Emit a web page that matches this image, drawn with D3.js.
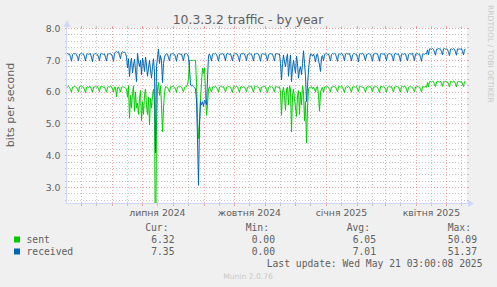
<!DOCTYPE html>
<html>
<head>
<meta charset="utf-8">
<script src="https://cdn.jsdelivr.net/npm/d3@7"></script>
<style>
  html, body { margin: 0; padding: 0; background: #f0f0f0; }
  svg { display: block; }
</style>
</head>
<body>
<div id="chart"></div>
<script>
// ---- data ----
const title = "10.3.3.2 traffic - by year";
const yLabel = "bits per second";
const startTime = "2024-04-16T03:00:00Z";   // 400 days before last update
const endTime = "2025-05-21T03:00:00Z";
const firstPoint = "2024-04-16T03:00:00Z";  // one value per day from here
const yTicks = [3, 4, 5, 6, 7, 8];
const xLabelMonths = ["2024-07-01", "2024-10-01", "2025-01-01", "2025-04-01"];
const xLabels = ["липня 2024", "жовтня 2024", "січня 2025", "квітня 2025"];
const seriesNames = ["sent", "received"];
const seriesColors = ["#00cc00", "#0066b3"];
const legendCur = [6.32, 7.35];
const legendMin = [0.00, 0.00];
const legendAvg = [6.05, 7.01];
const legendMax = [50.09, 51.37];
const lastUpdate = "Last update: Wed May 21 03:00:08 2025";
const footer = "Munin 2.0.76";
const watermark = "RRDTOOL / TOBI OETIKER";

const sent = [
  6.17,6.16,6.18,6.15,6.08,6.00,6.16,
  6.16,6.18,6.17,6.15,6.09,6.01,6.17,
  6.18,6.16,6.17,6.16,6.07,5.99,6.15,
  6.17,6.15,6.18,6.17,6.08,6.00,6.16,
  6.16,6.17,6.16,6.18,6.09,6.02,6.17,
  6.18,6.17,6.15,6.16,6.08,6.00,6.15,
  6.17,6.16,6.18,6.17,6.10,6.01,6.16,
  6.15,5.85,6.14,6.16,6.08,6.00,6.15,
  6.17,6.16,6.15,6.12,6.10,5.85,6.20,
  5.18,5.90,5.50,5.95,6.20,5.40,6.00,
  5.50,5.65,5.30,5.80,6.05,5.10,5.70,
  5.30,5.90,6.10,5.60,5.30,5.85,4.97,
  5.80,5.50,5.90,6.10,5.60,0.00,5.00,
  6.10,6.30,5.90,6.20,5.60,4.75,5.50,
  6.00,6.17,6.16,6.15,6.08,6.00,6.17,
  6.16,6.18,6.17,6.15,6.09,5.99,6.16,
  6.17,6.16,6.18,6.16,6.08,6.01,6.15,
  6.16,6.17,6.25,6.40,7.00,7.00,7.00,
  7.00,7.00,7.00,7.00,6.30,5.20,4.54,
  5.00,5.80,6.30,6.76,6.60,6.76,6.00,
  5.27,5.60,6.10,6.17,6.08,6.00,6.16,
  6.17,6.16,6.18,6.15,6.08,6.00,6.16,
  6.18,6.17,6.16,6.17,6.09,6.01,6.15,
  6.16,6.18,6.17,6.16,6.07,5.99,6.17,
  6.17,6.16,6.18,6.17,6.08,6.00,6.16,
  6.18,6.15,6.17,6.16,6.09,6.02,6.15,
  6.16,6.17,6.18,6.17,6.08,6.00,6.17,
  6.17,6.18,6.16,6.15,6.10,6.01,6.16,
  6.16,6.17,6.18,6.17,6.08,5.99,6.15,
  6.18,6.16,6.17,6.16,6.09,6.00,6.17,
  6.17,6.16,6.15,6.17,6.00,5.27,6.00,
  6.15,5.90,5.43,6.10,6.16,5.60,6.20,
  6.10,4.75,5.90,6.10,5.80,5.50,5.24,
  5.90,6.05,5.30,6.00,5.60,6.20,6.00,
  5.10,5.70,4.40,5.50,6.10,6.15,6.15,
  6.17,6.10,6.16,6.10,6.00,6.15,6.17,
  5.90,5.40,6.00,6.10,6.15,6.00,6.16,
  6.17,6.16,6.18,6.15,6.08,6.00,6.16,
  6.16,6.18,6.17,6.16,6.09,6.01,6.17,
  6.18,6.16,6.17,6.17,6.07,5.99,6.15,
  6.17,6.15,6.18,6.16,6.08,6.00,6.16,
  6.16,6.17,6.16,6.18,6.09,6.02,6.17,
  6.18,6.17,6.15,6.16,6.08,6.00,6.15,
  6.17,6.16,6.18,6.17,6.10,6.01,6.16,
  6.16,6.18,6.17,6.15,6.08,5.99,6.17,
  6.18,6.16,6.17,6.16,6.09,6.00,6.15,
  6.17,6.17,6.16,6.18,6.08,6.01,6.16,
  6.16,6.18,6.17,6.16,6.07,6.00,6.17,
  6.18,6.16,6.18,6.17,6.09,5.99,6.15,
  6.17,6.17,6.16,6.15,6.08,6.01,6.16,
  6.16,6.18,6.17,6.16,6.09,6.00,6.17,
  6.17,6.16,6.18,6.15,6.30,6.17,6.33,
  6.33,6.32,6.34,6.33,6.25,6.17,6.32,
  6.34,6.33,6.32,6.34,6.26,6.18,6.33,
  6.32,6.34,6.33,6.32,6.25,6.16,6.34,
  6.33,6.32,6.34,6.33,6.26,6.17,6.32,
  6.34,6.33,6.32,6.34,6.25,6.18,6.33,
  6.32
];

const received = [
  7.20,7.21,7.19,7.20,7.10,6.97,7.18,
  7.21,7.20,7.22,7.18,7.09,6.99,7.19,
  7.20,7.22,7.20,7.19,7.11,6.98,7.17,
  7.21,7.19,7.20,7.21,7.08,6.96,7.18,
  7.20,7.21,7.20,7.18,7.10,6.99,7.20,
  7.22,7.20,7.19,7.20,7.09,6.98,7.19,
  7.20,7.21,7.20,7.19,7.10,6.97,7.22,
  7.26,7.28,7.25,7.27,7.15,7.05,7.24,
  7.27,7.25,7.26,7.22,7.10,6.76,7.05,
  6.49,6.90,7.07,6.60,6.85,7.03,6.70,
  6.33,7.23,6.95,6.80,7.00,6.55,7.07,
  6.90,6.65,7.10,6.85,6.50,6.75,7.00,
  6.70,6.44,6.80,7.05,6.60,4.10,6.80,
  7.10,7.35,6.90,7.15,7.00,6.30,6.90,
  7.10,7.18,7.20,7.19,7.08,6.98,7.19,
  7.20,7.21,7.20,7.19,7.10,6.97,7.18,
  7.21,7.20,7.19,7.20,7.09,6.99,7.20,
  7.20,7.21,7.18,7.10,6.75,6.22,6.20,
  6.22,6.18,6.15,6.10,5.75,4.50,3.07,
  5.00,5.70,5.60,5.70,5.55,5.75,5.70,
  5.60,6.40,7.15,7.20,7.10,6.98,7.19,
  7.21,7.20,7.22,7.19,7.09,6.97,7.18,
  7.20,7.19,7.21,7.20,7.11,6.99,7.20,
  7.22,7.20,7.19,7.21,7.10,6.98,7.17,
  7.20,7.21,7.20,7.18,7.08,6.96,7.19,
  7.21,7.20,7.22,7.20,7.10,6.99,7.18,
  7.19,7.21,7.20,7.19,7.09,6.98,7.20,
  7.20,7.22,7.21,7.20,7.10,6.97,7.19,
  7.21,7.20,7.19,7.21,7.11,6.99,7.18,
  7.20,7.21,7.20,7.19,7.09,6.98,7.20,
  7.21,7.20,7.19,7.20,6.90,6.38,6.90,
  7.17,6.95,6.80,7.05,7.20,6.50,6.90,
  7.17,6.33,6.75,7.00,6.80,6.60,7.13,
  6.90,6.44,6.70,6.80,6.55,6.90,7.30,
  6.90,6.50,5.70,6.20,6.70,7.00,7.20,
  7.18,7.13,7.20,7.10,6.95,7.17,7.20,
  7.00,6.85,6.65,7.10,7.15,6.98,7.19,
  7.20,7.21,7.19,7.20,7.10,6.98,7.18,
  7.21,7.20,7.22,7.19,7.09,6.97,7.19,
  7.20,7.19,7.21,7.20,7.11,6.99,7.20,
  7.22,7.20,7.20,7.21,7.10,6.98,7.17,
  7.20,7.21,7.19,7.18,7.08,6.96,7.19,
  7.21,7.20,7.22,7.20,7.10,6.99,7.18,
  7.19,7.21,7.20,7.19,7.09,6.98,7.20,
  7.20,7.22,7.21,7.20,7.10,6.97,7.19,
  7.21,7.20,7.19,7.21,7.11,6.99,7.18,
  7.20,7.21,7.20,7.19,7.09,6.98,7.20,
  7.22,7.20,7.19,7.20,7.10,6.97,7.19,
  7.20,7.19,7.21,7.20,7.08,6.98,7.18,
  7.21,7.20,7.20,7.22,7.10,6.99,7.20,
  7.20,7.21,7.19,7.20,7.09,6.97,7.19,
  7.20,7.19,7.21,7.20,7.33,7.17,7.36,
  7.36,7.35,7.37,7.34,7.26,7.16,7.35,
  7.35,7.37,7.36,7.35,7.27,7.17,7.36,
  7.37,7.35,7.36,7.34,7.25,7.15,7.35,
  7.36,7.34,7.37,7.35,7.26,7.16,7.36,
  7.35,7.36,7.35,7.37,7.27,7.17,7.34,
  7.35
];

// ---- chart ----
const width = 497, height = 287;
const plot = {left: 66.5, right: 466.5, top: 28.5, bottom: 203.5};
const sansFont = "'DejaVu Sans', sans-serif";
const monoFont = "'DejaVu Sans Mono', monospace";
const textColor = "#606060";
const gridColor = "rgba(143,143,143,0.5)";
const mgridColor = "rgba(224,80,80,0.5)";
const axisColor = "#cfd6f8";

let x = d3.scaleUtc()
    .domain([new Date(startTime), new Date(endTime)])
    .range([plot.left, plot.right]);

let y = d3.scaleLinear()
    .domain([2.5, 8])
    .range([plot.bottom, plot.top]);

let pointTime = function(i){
    return d3.utcDay.offset(new Date(firstPoint), i);
};

let svg = d3.select("#chart")
    .append("svg")
    .attr("width", width)
    .attr("height", height)
    .style("background", "#f0f0f0");

// canvas
svg.append("rect")
    .attr("x", 67)
    .attr("y", 28)
    .attr("width", 400)
    .attr("height", 175)
    .attr("fill", "#ffffff");

let snap = function(v){ return Math.floor(v) + 0.5; };

let gridGroup = svg.append("g").attr("shape-rendering", "crispEdges");

// horizontal grid
let minorY = d3.range(26, 80, 2).map(v => v / 10).filter(v => Math.abs(v - Math.round(v)) > 0.01);
let hGrid = [
    ...minorY.map(v => ({v: v, major: false})),
    ...yTicks.map(v => ({v: v, major: true}))
];
hGrid.forEach(function(g){
    let py = snap(y(g.v));
    let col = g.major ? mgridColor : gridColor;
    gridGroup.append("line")
        .attr("x1", plot.left + 1).attr("x2", plot.right)
        .attr("y1", py).attr("y2", py)
        .attr("stroke", col)
        .attr("stroke-dasharray", "1,2");
    gridGroup.append("line")
        .attr("x1", plot.left - 2).attr("x2", plot.left)
        .attr("y1", py).attr("y2", py)
        .attr("stroke", col);
    gridGroup.append("line")
        .attr("x1", plot.right).attr("x2", plot.right + 2)
        .attr("y1", py).attr("y2", py)
        .attr("stroke", col);
});

// vertical grid
let [t0, t1] = x.domain();
let majorX = d3.utcMonth.range(t0, t1);
let minorX = d3.utcMonth.range(d3.utcMonth.offset(t0, -1), t1)
    .map(d => d3.utcDay.offset(d, 15))
    .filter(d => d > t0 && d < t1);
let vGrid = [
    ...minorX.map(d => ({d: d, major: false})),
    ...majorX.map(d => ({d: d, major: true}))
];
vGrid.forEach(function(g){
    let px = snap(x(g.d));
    let col = g.major ? mgridColor : gridColor;
    gridGroup.append("line")
        .attr("x1", px).attr("x2", px)
        .attr("y1", plot.top - 1).attr("y2", plot.bottom)
        .attr("stroke", col)
        .attr("stroke-dasharray", "1,2");
    gridGroup.append("line")
        .attr("x1", px).attr("x2", px)
        .attr("y1", plot.bottom).attr("y2", plot.bottom + 2)
        .attr("stroke", col);
    gridGroup.append("line")
        .attr("x1", px).attr("x2", px)
        .attr("y1", plot.top - 3).attr("y2", plot.top - 1)
        .attr("stroke", col);
});

// series lines
svg.append("clipPath")
    .attr("id", "plotClip")
    .append("rect")
    .attr("x", 66)
    .attr("y", 28)
    .attr("width", 402)
    .attr("height", 176);

let line = d3.line()
    .x((d, i) => x(pointTime(i)))
    .y(d => y(d));

let seriesGroup = svg.append("g").attr("clip-path", "url(#plotClip)");
[sent, received].forEach(function(values, k){
    seriesGroup.append("path")
        .datum(values)
        .attr("d", line)
        .attr("fill", "none")
        .attr("stroke", seriesColors[k])
        .attr("stroke-width", 1)
        .attr("stroke-linejoin", "round");
});

// axes
let axisGroup = svg.append("g").attr("shape-rendering", "crispEdges");
axisGroup.append("line")
    .attr("x1", plot.left).attr("x2", plot.left)
    .attr("y1", plot.bottom).attr("y2", 24)
    .attr("stroke", axisColor);
axisGroup.append("line")
    .attr("x1", plot.left).attr("x2", 470)
    .attr("y1", plot.bottom).attr("y2", plot.bottom)
    .attr("stroke", axisColor);
svg.append("path")
    .attr("d", "M63.5,27L70.5,27L67,20Z")
    .attr("fill", axisColor);
svg.append("path")
    .attr("d", "M468,200L468,207L474,203.5Z")
    .attr("fill", axisColor);

// y tick labels
svg.append("g").selectAll("text")
    .data(yTicks)
    .enter()
    .append("text")
    .attr("x", 60.5)
    .attr("y", d => y(d) + 3.3)
    .attr("text-anchor", "end")
    .style("font-family", sansFont)
    .style("font-size", "9.3px")
    .attr("fill", textColor)
    .text(d3.format(".1f"));

// x labels (centred half a month after the month start)
svg.append("g").selectAll("text")
    .data(xLabelMonths)
    .enter()
    .append("text")
    .attr("x", d => x(d3.utcDay.offset(new Date(d + "T00:00:00Z"), 15)))
    .attr("y", 215.5)
    .attr("text-anchor", "middle")
    .style("font-family", sansFont)
    .style("font-size", "9.3px")
    .attr("fill", textColor)
    .text((d, i) => xLabels[i]);

// title
svg.append("text")
    .attr("x", 248)
    .attr("y", 24)
    .attr("text-anchor", "middle")
    .style("font-family", sansFont)
    .style("font-size", "12.4px")
    .attr("fill", textColor)
    .text(title);

// y label
svg.append("text")
    .attr("transform", "translate(14.3,105) rotate(-90)")
    .attr("text-anchor", "middle")
    .style("font-family", sansFont)
    .style("font-size", "11px")
    .attr("fill", textColor)
    .text(yLabel);

// watermark
svg.append("text")
    .attr("transform", "translate(487.5,5) rotate(90)")
    .style("font-family", sansFont)
    .style("font-size", "7.6px")
    .attr("fill", "#c8c8c8")
    .text(watermark);

// legend
let legend = svg.append("g")
    .style("font-family", monoFont)
    .style("font-size", "9.7px")
    .attr("fill", textColor);

let headRight = [168.5, 269, 370, 471];
let valueRight = [174.5, 275, 376, 477];
let heads = ["Cur:", "Min:", "Avg:", "Max:"];
let stats = [legendCur, legendMin, legendAvg, legendMax];
let fmt = d3.format(".2f");

heads.forEach(function(h, j){
    legend.append("text")
        .attr("x", headRight[j]).attr("y", 231)
        .attr("text-anchor", "end")
        .text(h);
});

seriesNames.forEach(function(name, k){
    let rowY = 243 + k * 12;
    legend.append("rect")
        .attr("x", 14).attr("y", rowY - 6.5)
        .attr("width", 6).attr("height", 6)
        .attr("fill", seriesColors[k]);
    legend.append("text")
        .attr("x", 26.5).attr("y", rowY)
        .text(name);
    stats.forEach(function(s, j){
        legend.append("text")
            .attr("x", valueRight[j]).attr("y", rowY)
            .attr("text-anchor", "end")
            .text(fmt(s[k]));
    });
});

legend.append("text")
    .attr("x", 482.5).attr("y", 267)
    .attr("text-anchor", "end")
    .text(lastUpdate);

svg.append("text")
    .attr("x", 248)
    .attr("y", 278.5)
    .attr("text-anchor", "middle")
    .style("font-family", sansFont)
    .style("font-size", "7.6px")
    .attr("fill", "#c8c8c8")
    .text(footer);
</script>
</body>
</html>
